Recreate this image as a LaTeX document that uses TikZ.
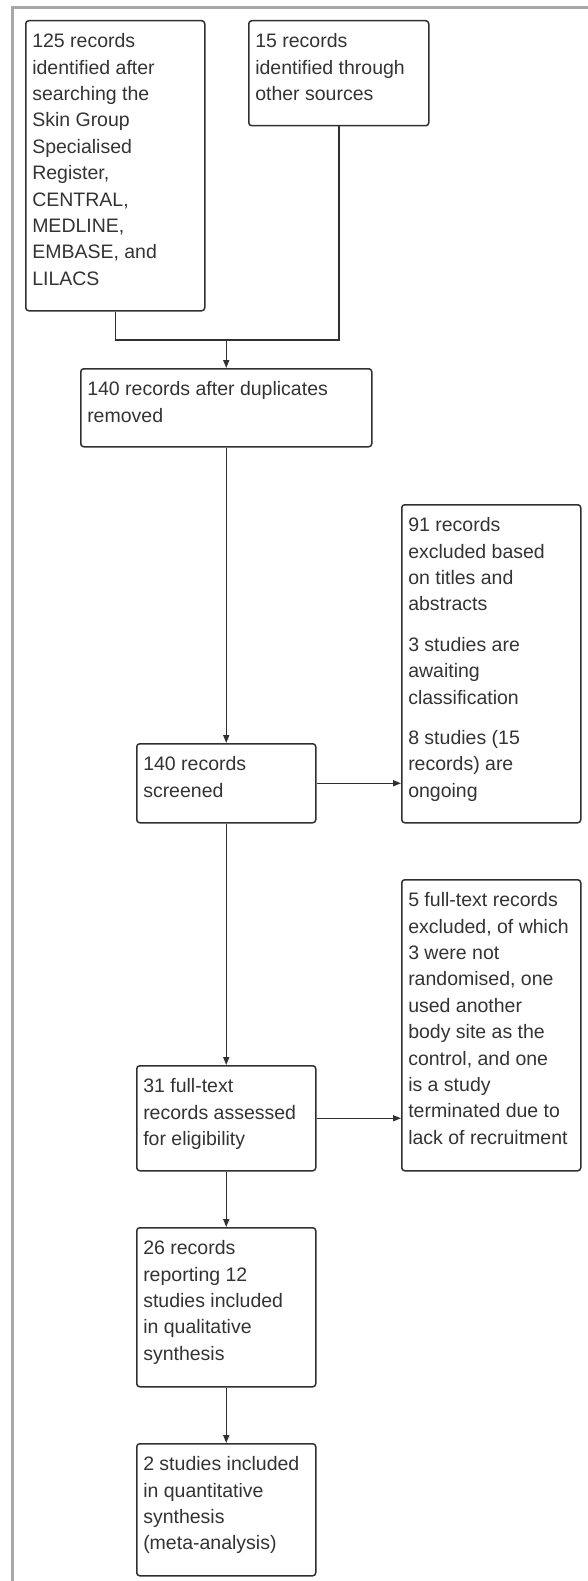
\documentclass[tikz,border=0pt]{standalone}
\usepackage{fontspec}
\setmainfont{Liberation Sans}
\usetikzlibrary{arrows.meta}
\definecolor{linec}{HTML}{303030}
\definecolor{textc}{HTML}{333333}
\definecolor{framec}{HTML}{A8A8A8}
\newcommand\bxt[3]{\parbox[t][#2pt][t]{\dimexpr #1pt-13pt\relax}{\fontsize{19.5pt}{26.4pt}\selectfont\raggedright\rule{0pt}{27pt}#3}}
\tikzset{
  box/.style={draw=linec, line width=1.5pt, rounded corners=3pt, inner xsep=6.5pt, inner ysep=0pt, anchor=north west, text=textc},
  conn/.style={draw=linec, line width=1.5pt},
  arr/.style={conn, -{Triangle[length=8pt,width=6pt]}}
}
\begin{document}
\begin{tikzpicture}[x=1pt,y=-1pt]
\useasboundingbox (0,0) rectangle (588,1581);
\draw[framec, line width=3pt] (12.5,1581) -- (12.5,8) -- (588,8);

\node[box] (b1) at (25,20) {\bxt{179}{290}{125 records\\identified after\\searching the\\Skin Group\\Specialised\\Register,\\CENTRAL,\\MEDLINE,\\EMBASE, and\\LILACS}};
\node[box] (b2) at (248,20) {\bxt{180}{105}{15 records\\identified through\\other sources}};
\node[box] (b3) at (80,368) {\bxt{291}{78}{140 records after duplicates\\removed}};
\node[box] (b4) at (136,743) {\bxt{179}{79}{140 records\\screened}};
\node[box] (b5) at (401,504) {\bxt{179}{318}{91 records\\excluded based\\on titles and\\abstracts\\[14pt]3 studies are\\awaiting\\classification\\[14pt]8 studies (15\\records) are\\ongoing}};
\node[box] (b6) at (136,1065) {\bxt{179}{105}{31 full-text\\records assessed\\for eligibility}};
\node[box] (b7) at (401,879) {\bxt{179}{291}{5 full-text records\\excluded, of which\\3 were not\\randomised, one\\used another\\body site as the\\control, and one\\is a study\\terminated due to\\lack of recruitment}};
\node[box] (b8) at (136,1227) {\bxt{179}{159}{26 records\\reporting 12\\studies included\\in qualitative\\synthesis}};
\node[box] (b9) at (136,1443) {\bxt{179}{132}{2 studies included\\in quantitative\\synthesis\\(meta-analysis)}};

\coordinate (j) at (b3.north |- 0,340);
\draw[conn] (b1.south) -- (b1.south |- j) -| (b2.south);
\draw[arr] (j) -- (b3.north);
\draw[arr] (b3.south) -- (b4.north);
\draw[arr] (b4.east) -- (b4.east -| b5.west);
\draw[arr] (b4.south) -- (b6.north);
\draw[arr] (b6.east) -- (b6.east -| b7.west);
\draw[arr] (b6.south) -- (b8.north);
\draw[arr] (b8.south) -- (b9.north);
\end{tikzpicture}
\end{document}
